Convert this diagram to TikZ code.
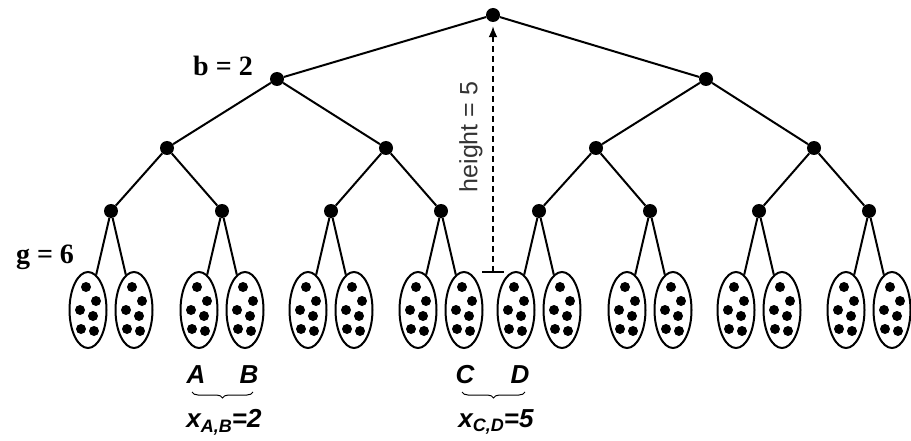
\documentclass[tikz,border=0pt]{standalone}
\usepackage{fontspec}
\setmainfont{Liberation Serif}
\newfontfamily\sfl{Liberation Sans}
\usetikzlibrary{shapes.geometric,decorations.pathreplacing,arrows.meta}
\tikzset{
  tnode/.style={circle,fill=black,inner sep=0pt,minimum size=14pt},
  leafnode/.style={ellipse,draw,line width=2pt,minimum width=37pt,minimum height=76pt,inner sep=0pt},
  edge/.style={line width=2pt},
  lbl/.style={font=\sfl\bfseries\itshape\fontsize{26}{28}\selectfont},
  param/.style={font=\bfseries\fontsize{28}{30}\selectfont},
  bracestyle/.style={decorate,decoration={brace,mirror,amplitude=6pt},line width=1pt},
}
\begin{document}
\begin{tikzpicture}[x=1pt,y=-1pt]
\useasboundingbox (0,0) rectangle (911,441);
% tree nodes
\node[tnode] (r) at (493,15) {};
\node[tnode] (a) at (277,79) {};
\node[tnode] (b) at (706,79) {};
\node[tnode] (aa) at (167,148) {};
\node[tnode] (ab) at (386,148) {};
\node[tnode] (ba) at (596,148) {};
\node[tnode] (bb) at (814,148) {};
\foreach \n/\x in {aaa/111,aab/222,aba/331,abb/441,baa/539,bab/650,bba/759,bbb/869}{
  \node[tnode] (\n) at (\x,211) {};
}
\draw[edge] (r) -- (a);
\draw[edge] (r) -- (b);
\draw[edge] (a) -- (aa);
\draw[edge] (a) -- (ab);
\draw[edge] (b) -- (ba);
\draw[edge] (b) -- (bb);
\draw[edge] (aa) -- (aaa);
\draw[edge] (aa) -- (aab);
\draw[edge] (ab) -- (aba);
\draw[edge] (ab) -- (abb);
\draw[edge] (ba) -- (baa);
\draw[edge] (ba) -- (bab);
\draw[edge] (bb) -- (bba);
\draw[edge] (bb) -- (bbb);
% leaves
\foreach \n/\x in {aaa/111,aab/222,aba/331,abb/441,baa/539,bab/650,bba/759,bbb/869}{
  \node[leafnode] (\n L) at (\x-23,310) {};
  \node[leafnode] (\n R) at (\x+23,310) {};
  \draw[edge] (\n) -- (\n L);
  \draw[edge] (\n) -- (\n R);
  \foreach \s in {L,R}{
    \foreach \dx/\dy in {-2/-23,8/-9,-8/0,5/6,-7/19,6/21}{
      \fill[shift={(\n\s.center)}] (\dx,\dy) circle (5pt);
    }
  }
}
% height arrow
\coordinate (tick) at (493,272);
\draw[line width=1.5pt] ([xshift=-11pt]tick) -- ([xshift=11pt]tick);
\draw[line width=1.8pt,dash pattern=on 6pt off 4pt,-{Latex[length=11pt,width=9pt]},shorten >=4pt] (tick) -- (r);
\node[rotate=90,font=\sfl\fontsize{25}{27}\selectfont,text=black!80] (hl) at (471,137) {height = 5};
% parameters
\node[param] (bl) at (223,66) {b = 2};
\node[param] (gl) at (45,257) {g = 6};
% bottom labels
\node[lbl] (A) at (196,375) {A};
\node[lbl] (B) at (249,375) {B};
\node[lbl] (C) at (465,375) {C};
\node[lbl] (D) at (520,375) {D};
\coordinate (abl) at (192,392);
\coordinate (abr) at (253,392);
\coordinate (cdl) at (462,392);
\coordinate (cdr) at (525,392);
\draw[bracestyle] (abl) -- (abr);
\draw[bracestyle] (cdl) -- (cdr);
\node[lbl] (xab) at (224,422) {x\raisebox{-0.35ex}{\fontsize{18}{20}\selectfont A,B}=2};
\node[lbl] (xcd) at (496,422) {x\raisebox{-0.35ex}{\fontsize{18}{20}\selectfont C,D}=5};
\end{tikzpicture}
\end{document}
